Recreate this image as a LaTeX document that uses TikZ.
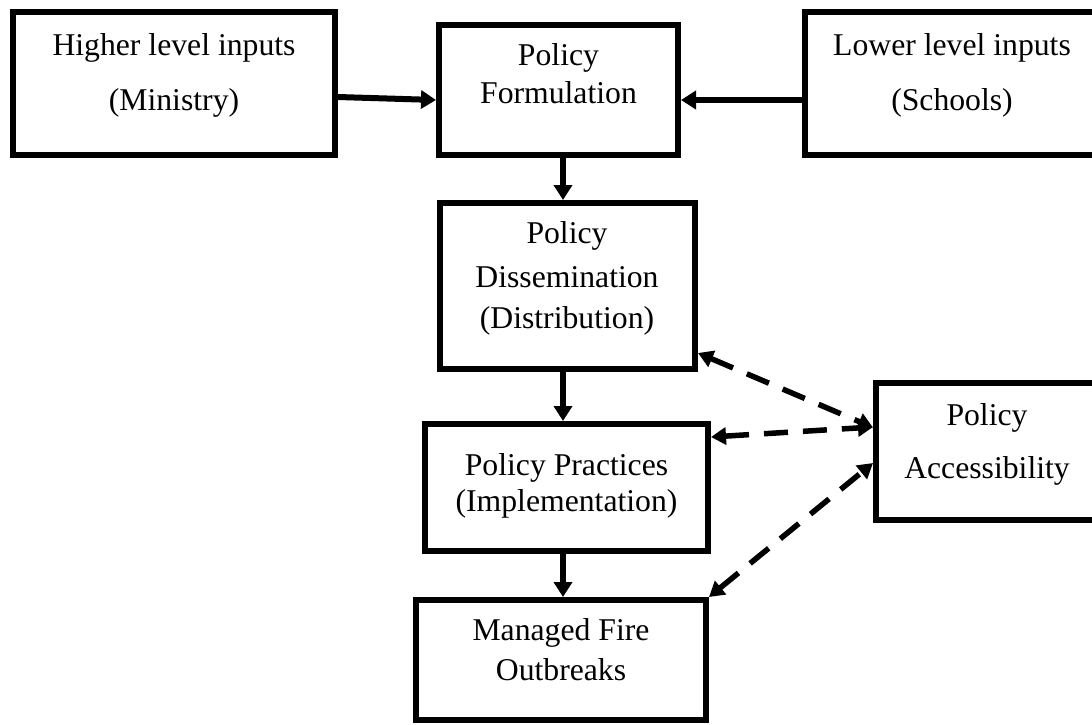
\documentclass[tikz,border=0pt]{standalone}
\usepackage{fontspec}
\setmainfont{Liberation Serif}
\usetikzlibrary{arrows.meta}
\tikzset{
  box/.style={draw=black, line width=6pt, rectangle, inner sep=0pt, fill=white},
  txt/.style={anchor=base, inner sep=0pt, font=\fontsize{31.7}{38}\selectfont},
  solidarrow/.style={line width=6pt, -{Triangle[length=15pt,width=18pt]}},
  dasharrow/.style={line width=5.5pt, dash pattern=on 24pt off 15pt,
    {Triangle[length=15pt,width=17pt]}-{Triangle[length=15pt,width=17pt]}}
}
\begin{document}
\begin{tikzpicture}[x=1pt,y=-1pt]
\useasboundingbox[fill=white] (0,0) rectangle (1092,724);
% boxes
\node[box, minimum width=322pt, minimum height=143pt] (higher) at (174,83.5) {};
\node[box, minimum width=239pt, minimum height=130pt] (form) at (558.5,90) {};
\node[box, minimum width=295pt, minimum height=143pt] (lower) at (952.5,83.5) {};
\node[box, minimum width=255pt, minimum height=166pt] (diss) at (567.5,286) {};
\node[box, minimum width=283pt, minimum height=127pt] (prac) at (566.5,487.5) {};
\node[box, minimum width=224pt, minimum height=137pt] (acc) at (988,451.5) {};
\node[box, minimum width=290pt, minimum height=120pt] (man) at (561,660) {};
% texts
\node[txt] (h1) at (174,55) {Higher level inputs};
\node[txt] (h2) at (174,110) {(Ministry)};
\node[txt] (f1) at (558.5,65) {Policy};
\node[txt] (f2) at (558.5,103) {Formulation};
\node[txt] (l1) at (952,55) {Lower level inputs};
\node[txt] (l2) at (952,110) {(Schools)};
\node[txt] (d1) at (567,243) {Policy};
\node[txt] (d2) at (567,287) {Dissemination};
\node[txt] (d3) at (567,328) {(Distribution)};
\node[txt] (p1) at (566.5,475) {Policy Practices};
\node[txt] (p2) at (566.5,511) {(Implementation)};
\node[txt] (a1) at (987,425) {Policy};
\node[txt] (a2) at (987,478) {Accessibility};
\node[txt] (m1) at (561,640) {Managed Fire};
\node[txt] (m2) at (561,680) {Outbreaks};
% solid arrows
\draw[solidarrow] ([yshift=-13.5pt]higher.east) -- ([yshift=-10pt]form.west);
\draw[solidarrow] ([yshift=-16.5pt]lower.west) -- ([yshift=-10pt]form.east);
\draw[solidarrow] ([xshift=4.5pt]form.south) -- ([xshift=-4.5pt]diss.north);
\draw[solidarrow] ([xshift=-4.5pt]diss.south) -- ([xshift=-3.5pt]prac.north);
\draw[solidarrow] ([xshift=-3.5pt]prac.south) -- ([xshift=2pt]man.north);
% dashed arrows
\draw[dasharrow] ([yshift=-67pt]diss.east) -- ([yshift=24pt]acc.west);
\draw[dasharrow] ([yshift=50.5pt]prac.east) -- ([yshift=24.5pt]acc.west);
\draw[dasharrow] (man.north east) -- ([yshift=-11.5pt]acc.west);
\end{tikzpicture}
\end{document}
